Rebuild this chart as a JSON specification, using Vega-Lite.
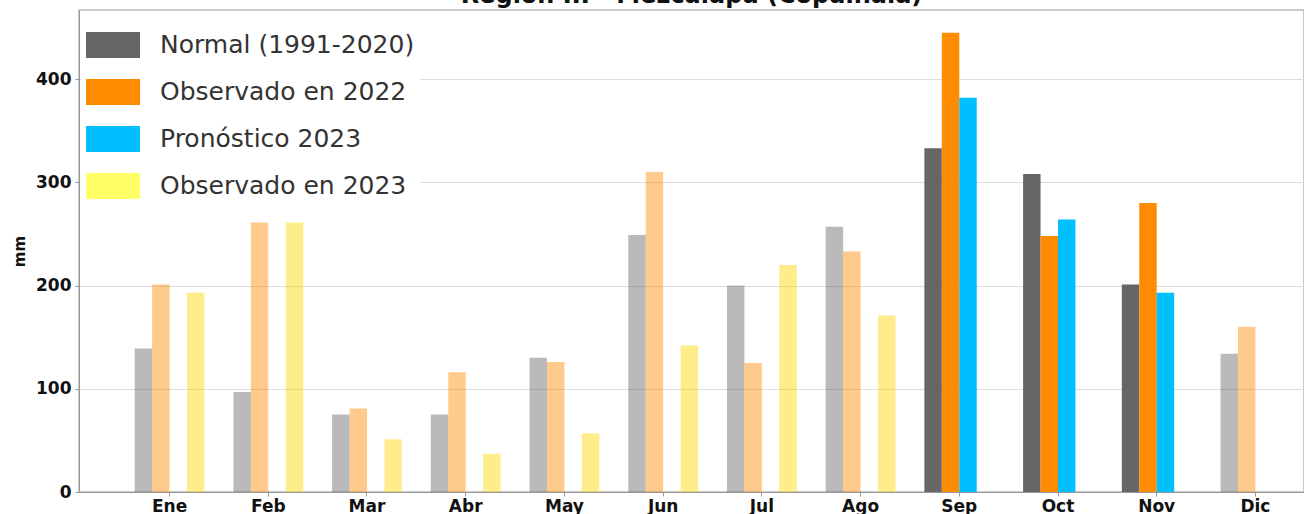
{
  "$schema": "https://vega.github.io/schema/vega-lite/v6.json",
  "width": 1225,
  "height": 482,
  "autosize": {"type": "none"},
  "padding": {"left": 79, "top": 10, "right": 0, "bottom": 22},
  "background": "white",
  "title": {"text": "Región III - Mezcalapa (Copainala)", "font": "DejaVu Sans", "fontSize": 24, "fontWeight": "bold", "color": "#111111", "anchor": "middle", "offset": 2},
  "config": {
    "view": {"stroke": "#bbbbbb", "strokeWidth": 1.5},
    "axis": {"domainColor": "#999999", "tickColor": "#999999", "gridColor": "#dddddd", "labelFont": "DejaVu Sans", "labelFontWeight": "bold", "labelColor": "#111111", "titleFont": "DejaVu Sans", "titleFontWeight": "bold", "titleColor": "#111111"}
  },
  "data": {
    "values": [
      {"mes": "Ene", "serie": "Normal (1991-2020)", "valor": 139},
      {"mes": "Feb", "serie": "Normal (1991-2020)", "valor": 97},
      {"mes": "Mar", "serie": "Normal (1991-2020)", "valor": 75},
      {"mes": "Abr", "serie": "Normal (1991-2020)", "valor": 75},
      {"mes": "May", "serie": "Normal (1991-2020)", "valor": 130},
      {"mes": "Jun", "serie": "Normal (1991-2020)", "valor": 249},
      {"mes": "Jul", "serie": "Normal (1991-2020)", "valor": 200},
      {"mes": "Ago", "serie": "Normal (1991-2020)", "valor": 257},
      {"mes": "Sep", "serie": "Normal (1991-2020)", "valor": 333},
      {"mes": "Oct", "serie": "Normal (1991-2020)", "valor": 308},
      {"mes": "Nov", "serie": "Normal (1991-2020)", "valor": 201},
      {"mes": "Dic", "serie": "Normal (1991-2020)", "valor": 134},
      {"mes": "Ene", "serie": "Observado en 2022", "valor": 201},
      {"mes": "Feb", "serie": "Observado en 2022", "valor": 261},
      {"mes": "Mar", "serie": "Observado en 2022", "valor": 81},
      {"mes": "Abr", "serie": "Observado en 2022", "valor": 116},
      {"mes": "May", "serie": "Observado en 2022", "valor": 126},
      {"mes": "Jun", "serie": "Observado en 2022", "valor": 310},
      {"mes": "Jul", "serie": "Observado en 2022", "valor": 125},
      {"mes": "Ago", "serie": "Observado en 2022", "valor": 233},
      {"mes": "Sep", "serie": "Observado en 2022", "valor": 445},
      {"mes": "Oct", "serie": "Observado en 2022", "valor": 248},
      {"mes": "Nov", "serie": "Observado en 2022", "valor": 280},
      {"mes": "Dic", "serie": "Observado en 2022", "valor": 160},
      {"mes": "Sep", "serie": "Pronóstico 2023", "valor": 382},
      {"mes": "Oct", "serie": "Pronóstico 2023", "valor": 264},
      {"mes": "Nov", "serie": "Pronóstico 2023", "valor": 193},
      {"mes": "Ene", "serie": "Observado en 2023", "valor": 193},
      {"mes": "Feb", "serie": "Observado en 2023", "valor": 261},
      {"mes": "Mar", "serie": "Observado en 2023", "valor": 51},
      {"mes": "Abr", "serie": "Observado en 2023", "valor": 37},
      {"mes": "May", "serie": "Observado en 2023", "valor": 57},
      {"mes": "Jun", "serie": "Observado en 2023", "valor": 142},
      {"mes": "Jul", "serie": "Observado en 2023", "valor": 220},
      {"mes": "Ago", "serie": "Observado en 2023", "valor": 171}
    ]
  },
  "mark": {"type": "bar"},
  "encoding": {
    "x": {
      "field": "mes", "type": "nominal",
      "sort": ["Ene", "Feb", "Mar", "Abr", "May", "Jun", "Jul", "Ago", "Sep", "Oct", "Nov", "Dic"],
      "scale": {"range": [0, 1267], "paddingInner": 0.293, "paddingOuter": 0.564},
      "axis": {"title": null, "labelAngle": 0, "labelFontSize": 17, "labelPadding": 2, "tickSize": 4, "grid": false}
    },
    "xOffset": {
      "field": "serie", "type": "nominal",
      "scale": {"domain": ["Normal (1991-2020)", "Observado en 2022", "Pronóstico 2023", "Observado en 2023"], "paddingInner": 0, "paddingOuter": 0}
    },
    "y": {
      "field": "valor", "type": "quantitative",
      "scale": {"domain": [0, 467], "nice": false},
      "axis": {"title": "mm", "values": [0, 100, 200, 300, 400], "labelFontSize": 17, "labelPadding": 4, "tickSize": 4, "titleFontSize": 15, "titlePadding": 8, "grid": true}
    },
    "color": {
      "field": "serie", "type": "nominal",
      "condition": {"test": "datum.serie === 'Observado en 2023'", "value": "#ffd700"},
      "scale": {"domain": ["Normal (1991-2020)", "Observado en 2022", "Pronóstico 2023", "Observado en 2023"], "range": ["#666666", "#ff8c00", "#00bfff", "#ffff66"]},
      "legend": {
        "title": null, "orient": "none", "legendX": 2, "legendY": 3,
        "fillColor": "white", "padding": 5,
        "symbolType": "M-1,-0.48H1V0.48H-1Z", "symbolSize": 2916, "symbolStrokeWidth": 0, "symbolOpacity": 1,
        "labelFont": "DejaVu Sans", "labelFontSize": 25, "labelColor": "#333333", "labelOffset": 20, "rowPadding": 7, "labelLimit": 400
      }
    },
    "opacity": {
      "condition": {"test": "indexof(['Sep','Oct','Nov'], datum.mes) >= 0", "value": 1},
      "value": 0.45
    }
  }
}
